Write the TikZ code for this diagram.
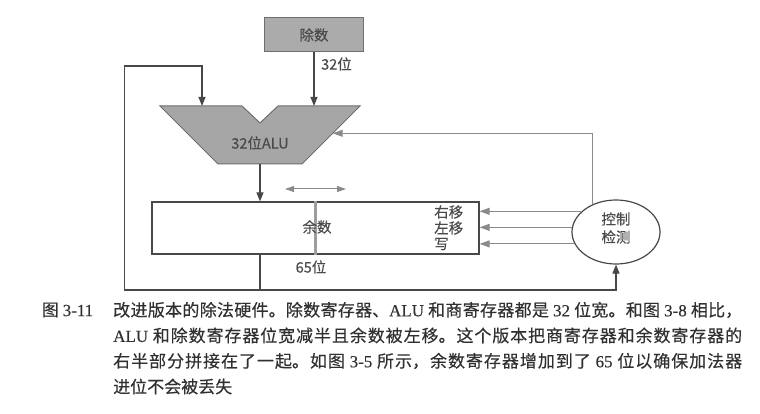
\documentclass[tikz,border=0pt]{standalone}
\usepackage{fontspec}
\setmainfont{Noto Sans CJK SC}
\newfontfamily\labelface{Noto Sans CJK SC}[FakeBold=0.35]
\newfontfamily\capface{Noto Sans CJK SC}[FakeBold=0.3]
\newfontfamily\capserif{Liberation Serif}[FakeBold=0.3]
\usetikzlibrary{arrows.meta,shapes.geometric,calc}

\definecolor{ink}{HTML}{484848}
\definecolor{softink}{HTML}{8A8A8A}
\definecolor{regfill}{HTML}{ABABAB}
\definecolor{alufill}{HTML}{A6A6A6}
\definecolor{edge}{HTML}{6E6E6E}
\definecolor{labelgray}{HTML}{4A4A4A}
\definecolor{bargray}{HTML}{9C9C9C}
\definecolor{captext}{HTML}{303030}

\XeTeXlinebreaklocale "zh"
\XeTeXlinebreakskip=0pt plus 2pt

\begin{document}
\begin{tikzpicture}[x=1pt,y=-1pt,
  wire/.style={draw=ink,line width=1.2pt},
  arrowwire/.style={wire,-{Triangle[length=9pt,width=7pt]}},
  ctlwire/.style={draw=softink,line width=1pt,-{Triangle[length=10pt,width=7pt]}},
  lbl/.style={font=\labelface\fontsize{14.5}{18}\selectfont,text=labelgray,inner sep=0pt},
  capfont/.style={font=\capface\fontsize{17}{20}\selectfont,text=captext,inner sep=0pt},
  capbody/.style={capfont,text width=629pt,align=justify,anchor=west}]
\useasboundingbox (0,0) rectangle (760,414);

% divisor register
\node[lbl,draw=edge,fill=regfill,line width=1pt,minimum width=99pt,minimum height=34pt] (div) at (314,35) {除数};

% 32-bit ALU
\draw[draw=edge,fill=alufill,line width=1pt]
  (160,106) -- (242,106) -- (260,123) -- (278,106) -- (360,106)
  -- (302,164) -- (218,164) -- cycle;
\node[lbl] (alu) at (260,143) {32位ALU};
\coordinate (alu-inA) at (202,106);
\coordinate (alu-inB) at (314,106);
\coordinate (alu-out) at (260,164);
\coordinate (alu-ctl) at (332.7,133.3);

% remainder register
\node[draw=ink,line width=1.2pt,minimum width=327pt,minimum height=52pt,inner sep=0pt] (rem) at (315.5,228) {};
\draw[draw=bargray,line width=3.5pt] (rem.north) -- (rem.south);
\node[lbl] (remtxt) at (317,227) {余数};
\node[lbl,anchor=west] (shr) at (434,212) {右移};
\node[lbl,anchor=west] (shl) at (434,228) {左移};
\node[lbl,anchor=west] (wr) at (434,244) {写};

% shift direction marker
\coordinate (shiftL) at (285,189);
\coordinate (shiftR) at (346,189);
\draw[draw=softink,line width=1pt,{Triangle[length=9pt,width=6pt]}-{Triangle[length=9pt,width=6pt]}] (shiftL) -- (shiftR);

% control test
\node[ellipse,draw=ink,line width=1.2pt,minimum width=88pt,minimum height=64pt,inner sep=0pt] (ctl) at (616,232) {};
\node[lbl,align=center] (ctltxt) at (616,228) {控制\\检测};

% width labels
\node[lbl,anchor=west] (w32) at (321,64) {32位};
\node[lbl] (w65) at (311,267) {65位};

% data paths
\draw[arrowwire] (div.south) -- (alu-inB);
\draw[arrowwire] (alu-out) -- (rem.north -| alu-out);
\coordinate (tap) at (260,290);
\coordinate (corner) at (124.4,290);
\coordinate (looptop) at (124.4,66);
\draw[wire] (rem.south -| tap) -- (tap);
\draw[arrowwire] (tap) -- (corner) -- (looptop) -| (alu-inA);
\draw[arrowwire] (tap) -| (ctl.south);

% control paths
\draw[ctlwire] (ctl.131.8) |- (alu-ctl);
\draw[ctlwire] (ctl.149.8) -- (ctl.149.8 -| rem.east);
\draw[ctlwire] (ctl.174.8) -- (ctl.174.8 -| rem.east);
\draw[ctlwire] (ctl.196.4) -- (ctl.196.4 -| rem.east);

% caption
\node[capfont,anchor=west] (figno) at (41.7,310) {图 {\capserif 3-11}};
\node[capbody] (cap1) at (113,310) {\noindent\parfillskip=0pt 改进版本的除法硬件。除数寄存器、{\capserif ALU} 和商寄存器都是 {\capserif 32} 位宽。和图 {\capserif 3-8} 相比，\par};
\node[capbody] (cap2) at (113,335.5) {\noindent\parfillskip=0pt {\capserif ALU} 和除数寄存器位宽减半且余数被左移。这个版本把商寄存器和余数寄存器的\par};
\node[capbody] (cap3) at (113,361) {\noindent\parfillskip=0pt 右半部分拼接在了一起。如图 {\capserif 3-5} 所示，余数寄存器增加到了 {\capserif 65} 位以确保加法器\par};
\node[capfont,anchor=west] (cap4) at (113,386.5) {进位不会被丢失};
\end{tikzpicture}
\end{document}
